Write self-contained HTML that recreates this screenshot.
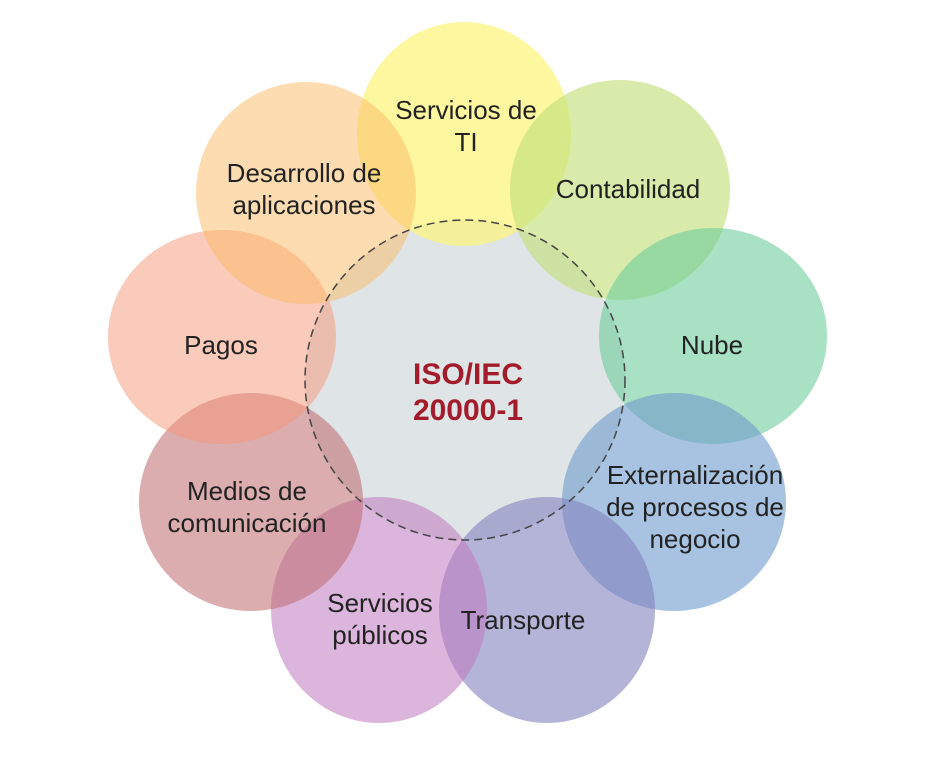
<!DOCTYPE html>
<html><head><meta charset="utf-8"><style>
html,body{margin:0;padding:0;background:#fff;width:946px;height:757px;overflow:hidden}
text{font-family:"Liberation Sans",sans-serif;font-size:26px;fill:#222}
</style></head><body>
<svg width="946" height="757" viewBox="0 0 946 757">
<circle cx="465" cy="380" r="160" fill="#dfe4e7"/>
<g>
<ellipse cx="464" cy="134" rx="107" ry="112" fill="rgb(252,243,120)" fill-opacity="0.7"/>
<ellipse cx="620" cy="190" rx="110" ry="110" fill="rgb(195,225,125)" fill-opacity="0.65"/>
<ellipse cx="713" cy="336" rx="114" ry="108" fill="rgb(110,205,155)" fill-opacity="0.6"/>
<ellipse cx="674" cy="502" rx="112" ry="109" fill="rgb(110,155,205)" fill-opacity="0.6"/>
<ellipse cx="547" cy="610" rx="108" ry="113" fill="rgb(130,130,190)" fill-opacity="0.6"/>
<ellipse cx="379" cy="610" rx="108" ry="113" fill="rgb(190,120,190)" fill-opacity="0.55"/>
<ellipse cx="251" cy="502" rx="112" ry="109" fill="rgb(190,105,110)" fill-opacity="0.55"/>
<ellipse cx="222" cy="337" rx="114" ry="107" fill="rgb(245,150,120)" fill-opacity="0.5"/>
<ellipse cx="306" cy="193" rx="110" ry="111" fill="rgb(252,185,100)" fill-opacity="0.5"/>
</g>
<circle cx="465" cy="380" r="160" fill="none" stroke="#444" stroke-width="1.5" stroke-dasharray="8,5"/>
<text x="468" y="384" text-anchor="middle" style="font-size:30px;font-weight:bold;fill:#a31c2b">ISO/IEC</text>
<text x="468" y="420" text-anchor="middle" style="font-size:30px;font-weight:bold;fill:#a31c2b">20000-1</text>
<text x="466" y="119" text-anchor="middle">Servicios de</text>
<text x="466" y="151" text-anchor="middle">TI</text>
<text x="628" y="198" text-anchor="middle">Contabilidad</text>
<text x="712" y="354" text-anchor="middle">Nube</text>
<text x="695" y="484" text-anchor="middle">Externalización</text>
<text x="695" y="516" text-anchor="middle">de procesos de</text>
<text x="695" y="548" text-anchor="middle">negocio</text>
<text x="523" y="629" text-anchor="middle">Transporte</text>
<text x="380" y="612" text-anchor="middle">Servicios</text>
<text x="380" y="644" text-anchor="middle">públicos</text>
<text x="247" y="500" text-anchor="middle">Medios de</text>
<text x="247" y="532" text-anchor="middle">comunicación</text>
<text x="221" y="354" text-anchor="middle">Pagos</text>
<text x="304" y="182" text-anchor="middle">Desarrollo de</text>
<text x="304" y="214" text-anchor="middle">aplicaciones</text>
</svg>
</body></html>
